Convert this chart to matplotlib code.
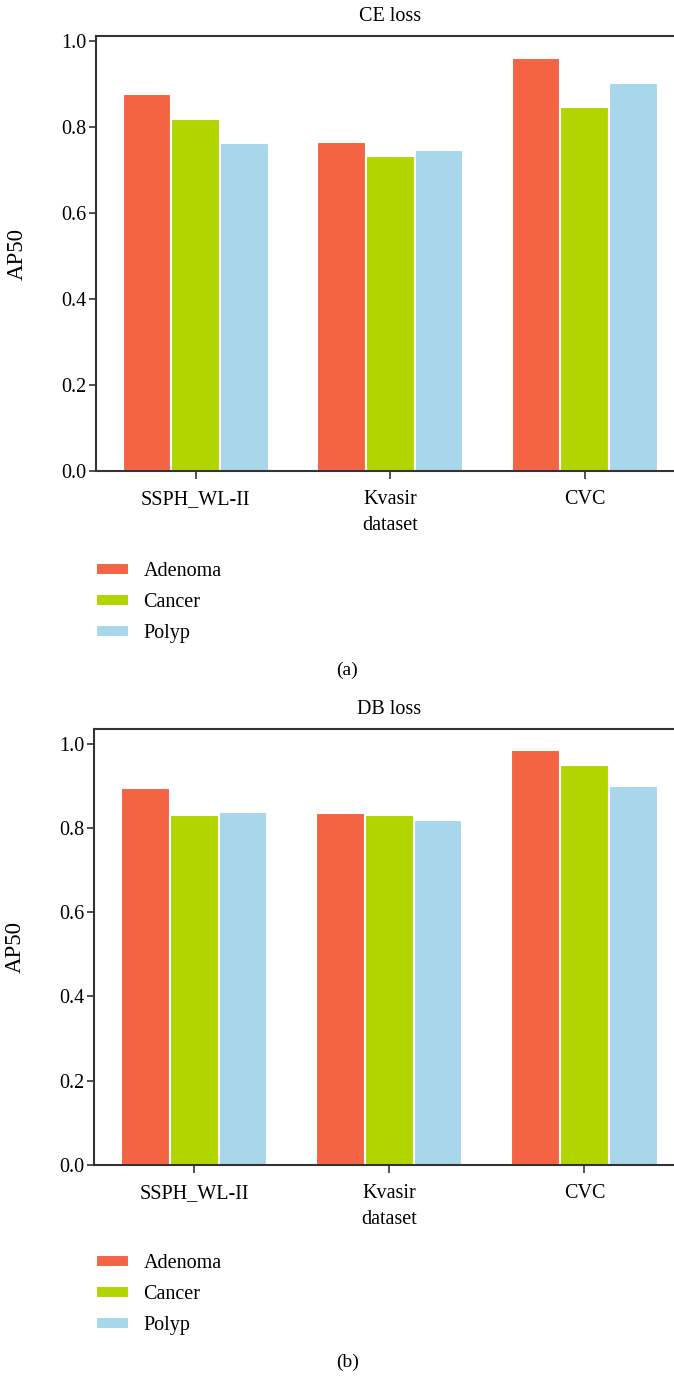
import matplotlib
matplotlib.use("Agg")
import matplotlib.pyplot as plt
import numpy as np

datasets = ["SSPH_WL-II", "Kvasir", "CVC"]
classes = ["Adenoma", "Cancer", "Polyp"]
colors = ["#F26444", "#B2D500", "#A8D7EC"]

# AP50 per class, one list per dataset order above
ce_adenoma = [0.878, 0.765, 0.960]
ce_cancer = [0.819, 0.733, 0.847]
ce_polyp = [0.762, 0.746, 0.902]

db_adenoma = [0.895, 0.835, 0.985]
db_cancer = [0.831, 0.831, 0.949]
db_polyp = [0.838, 0.819, 0.899]

plt.rcParams["font.family"] = ["Liberation Serif", "DejaVu Serif"]
FS = 14.5
SPINE = "#333333"


def draw_panel(fig, rect, title, series, ytop, legend_y, caption, caption_y):
    ax = fig.add_axes(rect)
    x = np.arange(len(datasets))
    w = 0.25
    for i, (vals, c) in enumerate(zip(series, colors)):
        ax.bar(x + (i - 1) * w, vals, w, color=c, edgecolor="white",
               linewidth=1.5, label=classes[i])
    ax.set_xlim(-0.513, 2.51)
    ax.set_ylim(0, ytop)
    ax.set_yticks([0.0, 0.2, 0.4, 0.6, 0.8, 1.0])
    ax.set_yticklabels(["0.0", "0.2", "0.4", "0.6", "0.8", "1.0"])
    ax.set_xticks(x)
    ax.set_xticklabels(datasets, fontsize=FS)
    ax.tick_params(axis="y", labelsize=FS, length=5, width=1.2, color=SPINE, pad=2)
    ax.tick_params(axis="x", length=6, width=1.2, color=SPINE, pad=8)
    for s in ["left", "top", "bottom"]:
        ax.spines[s].set_color(SPINE)
        ax.spines[s].set_linewidth(1.5)
    ax.spines["right"].set_visible(False)
    ax.set_xlabel("dataset", fontsize=FS, labelpad=5)
    ax.set_ylabel("AP50", fontsize=16.5, labelpad=24)
    ax.set_title(title, fontsize=FS, pad=11)
    handles, labels = ax.get_legend_handles_labels()
    fig.legend(handles, labels, loc="upper left",
               bbox_to_anchor=(96 / 674, legend_y), frameon=False,
               fontsize=FS, handlelength=1.65, handleheight=0.6,
               handletextpad=0.7, labelspacing=0.6, borderpad=0,
               borderaxespad=0)
    fig.text(0.515, caption_y, caption, fontsize=FS - 0.5, ha="center", va="center")
    return ax


fig = plt.figure(figsize=(6.74, 13.76), dpi=100)
H = 1376.0

draw_panel(fig, [96 / 674, 1 - 471 / H, 588 / 674, 435 / H], "CE loss",
           [ce_adenoma, ce_cancer, ce_polyp], 1.012,
           1 - 562 / H, "(a)", 1 - 670 / H)
draw_panel(fig, [94 / 674, 1 - 1165 / H, 590 / 674, 436 / H], "DB loss",
           [db_adenoma, db_cancer, db_polyp], 1.035,
           1 - 1254 / H, "(b)", 1 - 1362 / H)

fig.savefig("out.png", dpi=100)
